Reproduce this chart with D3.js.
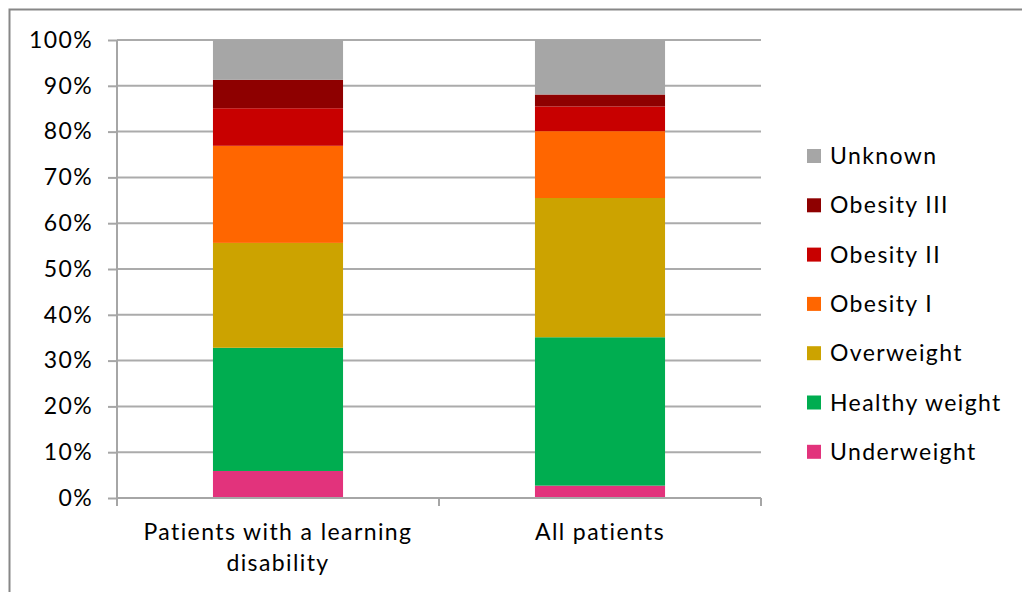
<!DOCTYPE html>
<html>
<head>
<meta charset="utf-8">
<script src="https://cdn.jsdelivr.net/npm/d3@7"></script>
<style>
  html, body { margin: 0; padding: 0; background: #fff; }
  svg { display: block; }
  text { font-family: Lato, "Open Sans", sans-serif; fill: #000; letter-spacing: 1.4px; }
</style>
</head>
<body>
<svg id="chart" width="1022" height="592"></svg>
<script>
// BMI category shares (%) for two patient groups
const categories = ["Patients with a learning disability", "All patients"];
const seriesNames = ["Underweight", "Healthy weight", "Overweight", "Obesity I", "Obesity II", "Obesity III", "Unknown"];
const seriesColors = ["#E2337C", "#00AD50", "#CCA300", "#FF6600", "#C80000", "#8E0000", "#A6A6A6"];
const learningDisabilityValues = [5.9, 26.9, 22.9, 21.2, 8.2, 6.2, 8.7];
const allPatientsValues = [2.7, 32.4, 30.4, 14.6, 5.4, 2.6, 11.9];
const yTicks = [0, 10, 20, 30, 40, 50, 60, 70, 80, 90, 100];

const groupValues = [learningDisabilityValues, allPatientsValues];
const rows = categories.map((c, i) => {
  const row = { category: c };
  seriesNames.forEach((s, j) => { row[s] = groupValues[i][j]; });
  return row;
});

const svg = d3.select("#chart");
const plot = { left: 117, right: 761, top: 40, bottom: 498 };

// Outer frame (left and top edges only are visible)
svg.append("path")
  .attr("d", `M9.5,592 V9.5 H1022`)
  .attr("fill", "none")
  .attr("stroke", "#878787")
  .attr("stroke-width", 2);

const x = d3.scaleBand()
  .domain(categories)
  .range([plot.left, plot.right])
  .paddingInner(0.596)
  .paddingOuter(0.298);

const y = d3.scaleLinear()
  .domain([0, 100])
  .range([plot.bottom, plot.top]);

// Horizontal gridlines
svg.append("g")
  .selectAll("line")
  .data(yTicks.filter(t => t > 0))
  .join("line")
  .attr("x1", plot.left)
  .attr("x2", plot.right)
  .attr("y1", d => y(d))
  .attr("y2", d => y(d))
  .attr("stroke", "#ABABAB")
  .attr("stroke-width", 2);

// Stacked bars
const stack = d3.stack().keys(seriesNames);
const layers = stack(rows);
const color = d3.scaleOrdinal().domain(seriesNames).range(seriesColors);

svg.append("g")
  .selectAll("g")
  .data(layers)
  .join("g")
  .attr("fill", d => color(d.key))
  .selectAll("rect")
  .data(d => d)
  .join("rect")
  .attr("x", d => x(d.data.category))
  .attr("width", x.bandwidth())
  .attr("y", d => y(d[1]))
  .attr("height", d => y(d[0]) - y(d[1]));

// Y axis
const yAxis = svg.append("g")
  .attr("transform", `translate(${plot.left},0)`)
  .call(d3.axisLeft(y)
    .tickValues(yTicks)
    .tickFormat(d => d + "%")
    .tickSize(9)
    .tickPadding(15));
yAxis.select(".domain").attr("stroke", "#A6A6A6").attr("stroke-width", 2)
  .attr("d", `M0,${plot.top} V${plot.bottom}`);
yAxis.selectAll(".tick line").attr("stroke", "#A6A6A6").attr("stroke-width", 2);
yAxis.selectAll(".tick text")
  .style("font-size", "23px")
  .style("font-family", "Lato, 'Open Sans', sans-serif")
  .attr("fill", "#000");

// X axis baseline and category separators
svg.append("line")
  .attr("x1", plot.left).attr("x2", plot.right)
  .attr("y1", plot.bottom).attr("y2", plot.bottom)
  .attr("stroke", "#A6A6A6").attr("stroke-width", 2);

const step = x.step();
const boundaries = d3.range(categories.length + 1).map(i => plot.left + i * step);
svg.append("g")
  .selectAll("line")
  .data(boundaries)
  .join("line")
  .attr("x1", d => d).attr("x2", d => d)
  .attr("y1", plot.bottom).attr("y2", plot.bottom + 8)
  .attr("stroke", "#A6A6A6").attr("stroke-width", 2);

// Category labels, wrapped to fit the band
function wrapWords(text, maxWidth, measure) {
  const words = text.split(" ");
  const lines = [];
  let line = "";
  words.forEach(w => {
    const trial = line ? line + " " + w : w;
    if (measure(trial) > maxWidth && line) { lines.push(line); line = w; }
    else line = trial;
  });
  if (line) lines.push(line);
  return lines;
}
const probe = svg.append("text").style("font-size", "23px").attr("visibility", "hidden");
const measure = s => { probe.text(s); return probe.node().getComputedTextLength(); };

svg.append("g")
  .selectAll("text")
  .data(categories)
  .join("text")
  .attr("text-anchor", "middle")
  .style("font-size", "23px")
  .attr("x", d => x(d) + x.bandwidth() / 2)
  .attr("y", 540)
  .each(function (d) {
    const lines = wrapWords(d, 300, measure);
    d3.select(this).selectAll("tspan")
      .data(lines)
      .join("tspan")
      .attr("x", x(d) + x.bandwidth() / 2)
      .attr("dy", (l, i) => i === 0 ? 0 : 31)
      .text(l => l);
  });
probe.remove();

// Legend (top entry is the top of the stack)
const legendItems = seriesNames.slice().reverse();
const legend = svg.append("g")
  .selectAll("g")
  .data(legendItems)
  .join("g")
  .attr("transform", (d, i) => `translate(807,${156 + i * 49.3})`);
legend.append("rect")
  .attr("x", 0).attr("y", -7)
  .attr("width", 14).attr("height", 14)
  .attr("fill", d => color(d));
legend.append("text")
  .attr("x", 23)
  .attr("y", 0)
  .attr("dy", "0.35em")
  .style("font-size", "23px")
  .text(d => d);
</script>
</body>
</html>
